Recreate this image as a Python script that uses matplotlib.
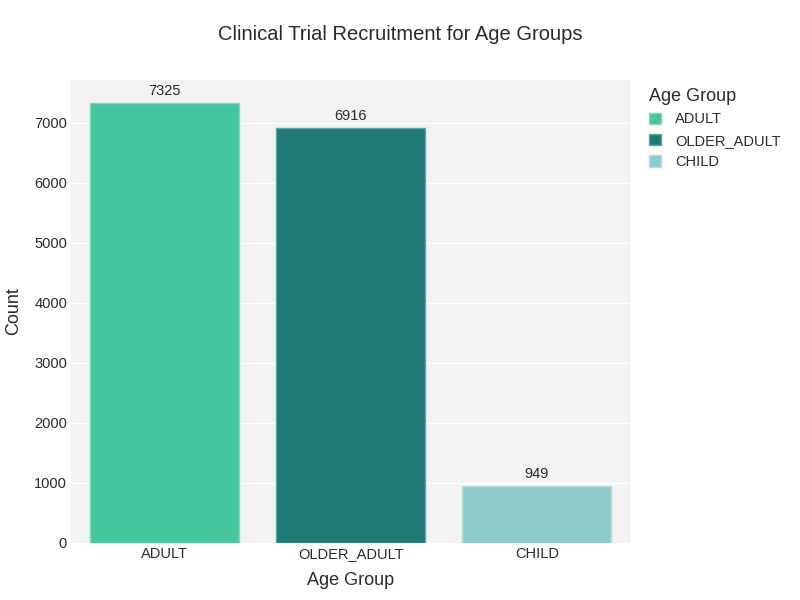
import matplotlib
matplotlib.use("Agg")
import matplotlib.pyplot as plt
from matplotlib.patches import Patch

plt.rcParams['font.family'] = ['Liberation Sans', 'DejaVu Sans']

# data
groups = ['ADULT', 'OLDER_ADULT', 'CHILD']
counts = [7325, 6916, 949]
colors = ['#45C6A0', '#1F7A76', '#8FCACB']
edges = ['#7FD9BE', '#5FA6A2', '#B5DDDE']
yticks = [0, 1000, 2000, 3000, 4000, 5000, 6000, 7000]

fig = plt.figure(figsize=(8, 6), dpi=100)
ax = fig.add_axes([0.089, 0.095, 0.6985, 0.7717])
ax.set_facecolor('#F2F2F2')

x = range(len(groups))
bars = ax.bar(x, counts, width=0.8, color=colors, edgecolor=edges, linewidth=1, zorder=3)
for xi, c in zip(x, counts):
    ax.text(xi, c + 90, str(c), ha='center', va='bottom', fontsize=10.5, color='#2a2a2a', zorder=4)

ax.set_xlim(-0.5, 2.5)
ax.set_ylim(0, 7716)
ax.set_xticks(list(x))
ax.set_xticklabels(groups, fontsize=10.5, color='#2a2a2a')
ax.set_yticks(yticks)
ax.set_yticklabels([str(t) for t in yticks], fontsize=10.5, color='#2a2a2a')
ax.grid(axis='y', color='white', linewidth=1, zorder=0)
ax.tick_params(axis='x', length=0, pad=3)
ax.tick_params(axis='y', length=0, pad=3)
for s in ax.spines.values():
    s.set_visible(False)

ax.set_xlabel('Age Group', fontsize=13, color='#2a2a2a', labelpad=8)
ax.set_ylabel('Count', fontsize=13, color='#2a2a2a', labelpad=9)
fig.text(0.5, 0.943, 'Clinical Trial Recruitment for Age Groups', ha='center', va='center',
         fontsize=14.5, color='#2a2a2a')

handles = [Patch(facecolor=c, edgecolor=e) for c, e in zip(colors, edges)]
leg = fig.legend(handles, groups, loc='upper left', bbox_to_anchor=(0.795, 0.875),
                 frameon=False, fontsize=10.5, title='Age Group', title_fontsize=13,
                 handlelength=0.8, handleheight=0.8, handletextpad=1.0, labelspacing=0.5)
leg._legend_box.align = 'left'
leg.get_title().set_color('#2a2a2a')
for t in leg.get_texts():
    t.set_color('#2a2a2a')

fig.savefig('out.png', dpi=100)
